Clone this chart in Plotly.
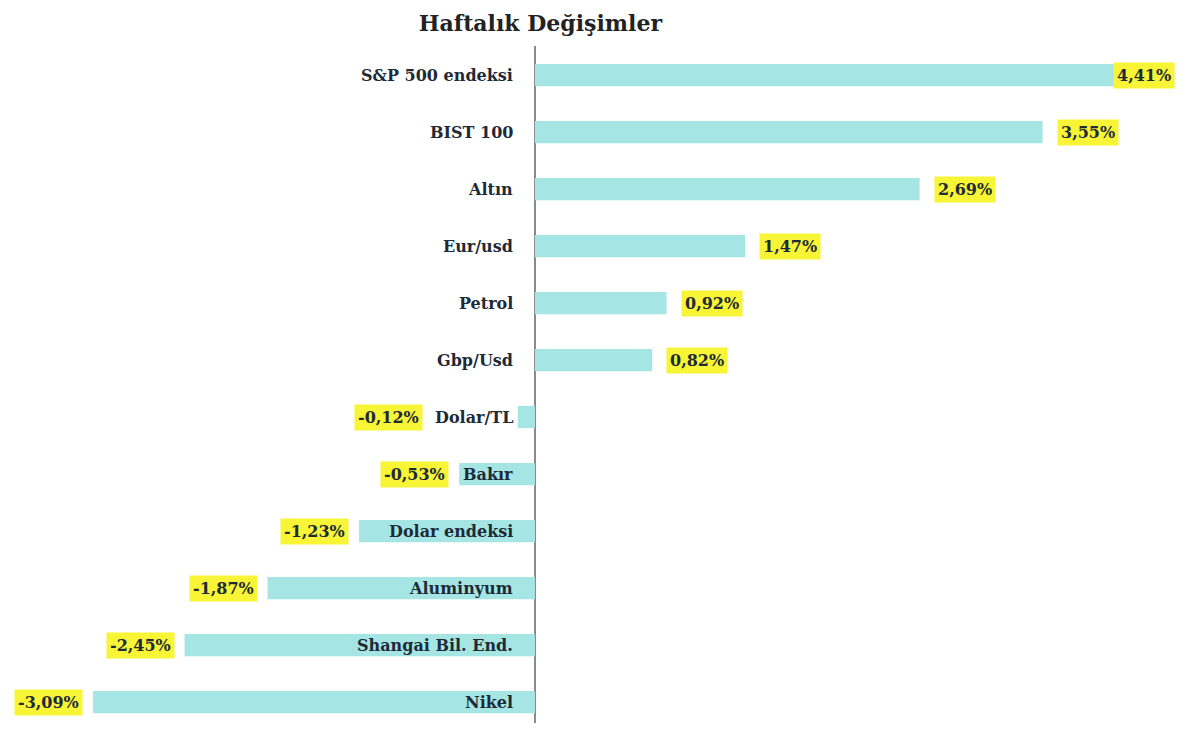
import plotly.graph_objects as go

categories = ["S&P 500 endeksi", "BIST 100", "Altın", "Eur/usd", "Petrol", "Gbp/Usd",
              "Dolar/TL", "Bakır", "Dolar endeksi", "Aluminyum", "Shangai Bil. End.", "Nikel"]
values = [4.41, 3.55, 2.69, 1.47, 0.92, 0.82, -0.12, -0.53, -1.23, -1.87, -2.45, -3.09]
value_labels = ["4,41%", "3,55%", "2,69%", "1,47%", "0,92%", "0,82%",
                "-0,12%", "-0,53%", "-1,23%", "-1,87%", "-2,45%", "-3,09%"]
title_text = "Haftalık Değişimler"

# approximate rendered figure size (page body margin leaves ~1170x715)
W = 1170
XMIN, XMAX = -3.685, 4.497
px_per_unit = W / (XMAX - XMIN)

BAR = "#a5e6e5"
YEL = "#f7f535"
TXT = "#1e2a36"
FONT = "DejaVu Serif"
FS = 16

fig = go.Figure()
fig.add_trace(go.Bar(
    x=values, y=categories, orientation="h",
    marker=dict(color=BAR, line=dict(width=0)),
    hoverinfo="skip",
))

annotations = []
cat_gap = 20
zero_px = -XMIN * px_per_unit
for cat, v, lab in zip(categories, values, value_labels):
    cat_w = len(cat) * 10.5
    annotations.append(dict(
        x=0, y=cat, xref="x", yref="y", text=f"<b>{cat}</b>", showarrow=False,
        xanchor="right", xshift=-cat_gap, font=dict(family=FONT, size=FS, color=TXT),
    ))
    lab_w = 70
    common = dict(y=cat, yref="y", text=f"<b>{lab}</b>", showarrow=False,
                  bgcolor=YEL, borderpad=3, font=dict(family=FONT, size=FS, color=TXT))
    if v >= 0:
        bar_px = v * px_per_unit
        if zero_px + bar_px + 12 + lab_w > W:
            annotations.append(dict(x=1, xref="paper", xanchor="right", xshift=-3, **common))
        else:
            annotations.append(dict(x=v, xref="x", xanchor="left", xshift=14, **common))
    else:
        bar_px = v * px_per_unit
        cat_left = -cat_gap - cat_w - 8
        shift = min(-10, cat_left - bar_px)
        annotations.append(dict(x=v, xref="x", xanchor="right", xshift=shift, **common))

fig.update_layout(
    title=dict(text=f"<b>{title_text}</b>", x=0.455, xanchor="center", y=0.978, yanchor="middle",
               font=dict(family=FONT, size=22, color="#222222")),
    margin=dict(l=0, r=0, t=38, b=0),
    plot_bgcolor="white", paper_bgcolor="white",
    bargap=0.61,
    showlegend=False,
    annotations=annotations,
    xaxis=dict(range=[XMIN, XMAX], showgrid=False, showticklabels=False, ticks="",
               zeroline=True, zerolinecolor="#8a8a8a", zerolinewidth=2, fixedrange=True),
    yaxis=dict(range=[11.368, -0.509], showticklabels=False, ticks="", showgrid=False,
               zeroline=False, fixedrange=True),
)

fig.write_html("out.html", config={"displayModeBar": False})
